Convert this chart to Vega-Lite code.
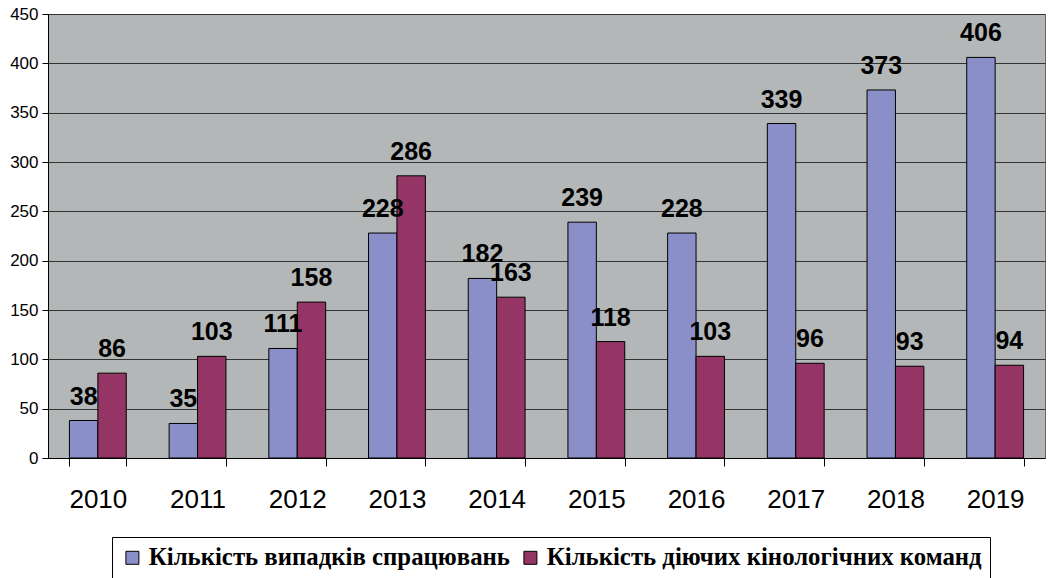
{
  "$schema": "https://vega.github.io/schema/vega-lite/v6.json",
  "width": 997,
  "height": 444,
  "autosize": {"type": "none"},
  "padding": {"left": 48, "top": 14, "right": 7, "bottom": 120},
  "background": "white",
  "config": {
    "view": {"fill": "#b4b7b7", "stroke": "#666666", "strokeWidth": 1}
  },
  "data": {
    "values": [
      {"year": "2010", "series": "Кількість випадків спрацювань", "value": 38},
      {"year": "2010", "series": "Кількість діючих кінологічних команд", "value": 86},
      {"year": "2011", "series": "Кількість випадків спрацювань", "value": 35},
      {"year": "2011", "series": "Кількість діючих кінологічних команд", "value": 103},
      {"year": "2012", "series": "Кількість випадків спрацювань", "value": 111},
      {"year": "2012", "series": "Кількість діючих кінологічних команд", "value": 158},
      {"year": "2013", "series": "Кількість випадків спрацювань", "value": 228},
      {"year": "2013", "series": "Кількість діючих кінологічних команд", "value": 286},
      {"year": "2014", "series": "Кількість випадків спрацювань", "value": 182},
      {"year": "2014", "series": "Кількість діючих кінологічних команд", "value": 163},
      {"year": "2015", "series": "Кількість випадків спрацювань", "value": 239},
      {"year": "2015", "series": "Кількість діючих кінологічних команд", "value": 118},
      {"year": "2016", "series": "Кількість випадків спрацювань", "value": 228},
      {"year": "2016", "series": "Кількість діючих кінологічних команд", "value": 103},
      {"year": "2017", "series": "Кількість випадків спрацювань", "value": 339},
      {"year": "2017", "series": "Кількість діючих кінологічних команд", "value": 96},
      {"year": "2018", "series": "Кількість випадків спрацювань", "value": 373},
      {"year": "2018", "series": "Кількість діючих кінологічних команд", "value": 93},
      {"year": "2019", "series": "Кількість випадків спрацювань", "value": 406},
      {"year": "2019", "series": "Кількість діючих кінологічних команд", "value": 94}
    ]
  },
  "encoding": {
    "x": {
      "field": "year",
      "type": "nominal",
      "scale": {"paddingInner": 0.43, "paddingOuter": 0.215},
      "axis": {
        "title": null,
        "labelAngle": 0,
        "labelFont": "Liberation Sans",
        "labelFontSize": 26,
        "labelColor": "black",
        "labelPadding": 20,
        "tickBand": "extent",
        "tickSize": 8,
        "tickColor": "black",
        "domainColor": "black",
        "grid": false
      }
    },
    "xOffset": {
      "field": "series",
      "type": "nominal",
      "scale": {"domain": ["Кількість випадків спрацювань", "Кількість діючих кінологічних команд"]}
    },
    "y": {
      "field": "value",
      "type": "quantitative",
      "scale": {"domain": [0, 450]},
      "axis": {
        "title": null,
        "values": [0, 50, 100, 150, 200, 250, 300, 350, 400, 450],
        "grid": true,
        "gridColor": "#333333",
        "gridWidth": 1,
        "domainColor": "black",
        "tickColor": "black",
        "tickSize": 6,
        "labelFont": "Liberation Sans",
        "labelFontSize": 17,
        "labelColor": "black",
        "labelPadding": 4
      }
    }
  },
  "layer": [
    {
      "mark": {"type": "bar", "stroke": "black", "strokeWidth": 1},
      "encoding": {
        "color": {
          "field": "series",
          "type": "nominal",
          "scale": {
            "domain": ["Кількість випадків спрацювань", "Кількість діючих кінологічних команд"],
            "range": ["#8b8fc9", "#953566"]
          },
          "legend": {
            "title": null,
            "orient": "none",
            "legendX": 64,
            "legendY": 523,
            "direction": "horizontal",
            "padding": 8,
            "strokeColor": "black",
            "fillColor": "white",
            "symbolType": "square",
            "symbolSize": 169,
            "symbolStrokeColor": "black",
            "symbolStrokeWidth": 1,
            "symbolOpacity": 1,
            "labelFont": "'Liberation Serif', 'DejaVu Serif', serif",
            "labelFontWeight": "bold",
            "labelFontSize": 24.8,
            "labelColor": "black",
            "labelOffset": 4,
            "labelLimit": 600,
            "columnPadding": 8
          }
        }
      }
    },
    {
      "mark": {
        "type": "text",
        "baseline": "alphabetic",
        "dy": -16,
        "font": "Liberation Sans",
        "fontSize": 25,
        "fontWeight": "bold",
        "color": "black"
      },
      "encoding": {"text": {"field": "value", "type": "quantitative"}}
    }
  ]
}
